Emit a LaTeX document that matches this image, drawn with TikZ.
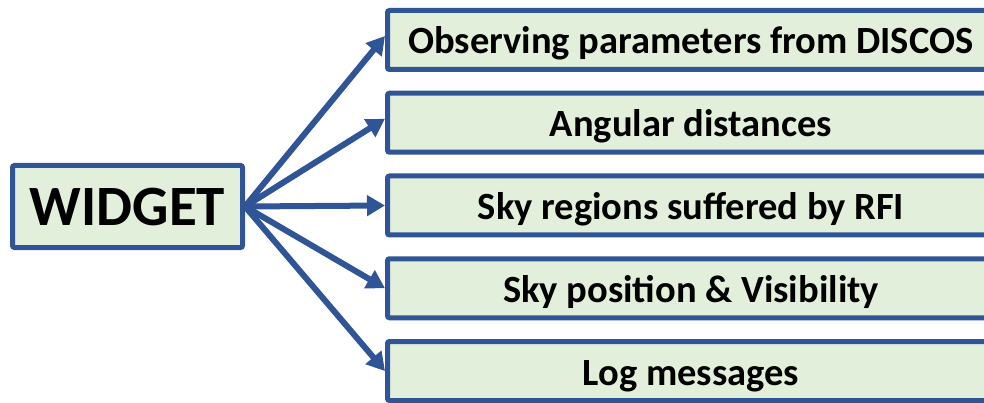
\documentclass[tikz,border=0pt]{standalone}
\usepackage{fontspec}
\setmainfont{Carlito}
\usepackage{xcolor}
\usepackage{tikz}
\usetikzlibrary{arrows.meta,positioning}
\definecolor{boxblue}{HTML}{2F5597}
\definecolor{boxgreen}{HTML}{E2EFDA}

\begin{document}
\begin{tikzpicture}[
  x=1pt, y=-1pt,
  widgetnode/.style={draw=boxblue, fill=boxgreen, line width=5pt,
    rounded corners=2pt, minimum width=230pt, minimum height=82pt,
    inner sep=0pt, text height=38pt, text depth=0pt,
    font=\fontsize{57}{62}\selectfont\bfseries},
  itemnode/.style={draw=boxblue, fill=boxgreen, line width=5pt,
    rounded corners=2pt, minimum width=607pt, minimum height=59pt,
    inner sep=0pt, text height=28pt, text depth=0pt,
    font=\fontsize{38.5}{44}\selectfont\bfseries},
  feedarrow/.style={-{Triangle[length=18pt,width=20pt]}, line width=6pt,
    boxblue}
]
\useasboundingbox (0,0) rectangle (984,403);
% ---------------- source ----------------
\node[widgetnode] (widget) at (127.5,206.5) {WIDGET};
% ---------------- outputs ----------------
\node[itemnode] (obs) at (691,40) {Observing parameters from DISCOS};
\node[itemnode] (ang) at (691,122.75) {Angular distances};
\node[itemnode] (rfi) at (691,205.5) {Sky regions suffered by RFI};
\node[itemnode] (vis) at (691,288.25) {Sky position \& Visibility};
\node[itemnode] (log) at (691,371) {Log messages};
% ---------------- arrows ----------------
\draw[feedarrow] (widget.east) -- ([yshift=4pt]obs.west);
\draw[feedarrow] (widget.east) -- ([yshift=4pt]ang.west);
\draw[feedarrow] (widget.east) -- (rfi.west);
\draw[feedarrow] (widget.east) -- (vis.west);
\draw[feedarrow] (widget.east) -- (log.west);
\end{tikzpicture}
\end{document}
